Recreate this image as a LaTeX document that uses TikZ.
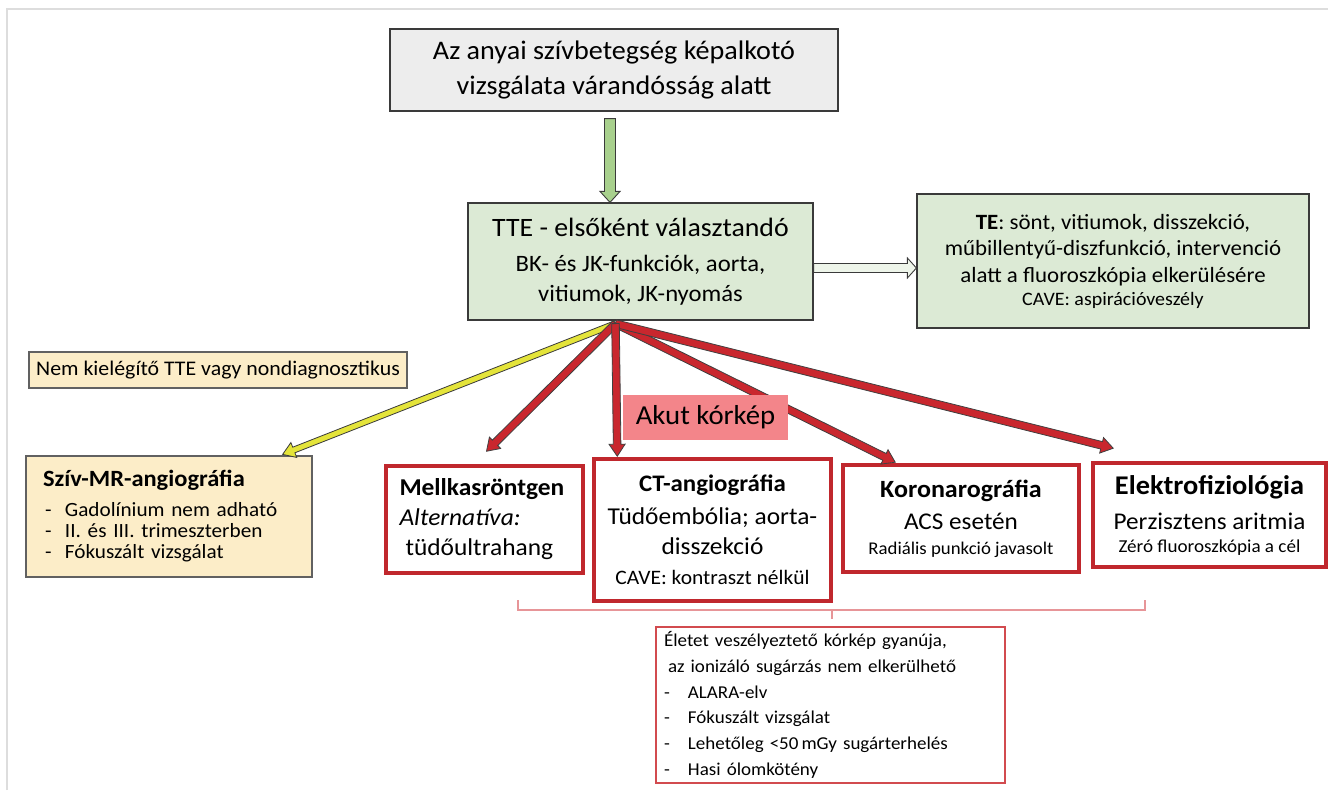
\documentclass[tikz,border=0pt]{standalone}
\usepackage{fontspec}
\setmainfont{Carlito}[FakeStretch=1.05]
\usetikzlibrary{calc}
\definecolor{boxline}{HTML}{3A3A3A}
\definecolor{titlefill}{HTML}{EDEDED}
\definecolor{greenfill}{HTML}{DCEAD5}
\definecolor{greenarrow}{HTML}{A8D08D}
\definecolor{greenlight}{HTML}{EEF5EA}
\definecolor{yellowfill}{HTML}{FCEDC8}
\definecolor{yellowarrow}{HTML}{E4E43A}
\definecolor{redline}{HTML}{C0272D}
\definecolor{redarrow}{HTML}{C9272E}
\definecolor{akutfill}{HTML}{F3858A}
\definecolor{thinred}{HTML}{D24B4F}
\definecolor{bracketred}{HTML}{E79598}
\definecolor{framegray}{HTML}{DDDDDD}
\newcommand\fs[2]{\fontsize{#1}{#2}\selectfont}
\newcommand\fatarrow[6]{%
  \path[#1] let \p1=(#2), \p2=(#3),
     \n1={atan2(\y2-\y1,\x2-\x1)}, \n2={veclen(\x2-\x1,\y2-\y1)} in
     [shift={(\p1)}, rotate=\n1]
     (0pt,-#4pt) -- ({\n2*1pt-#6pt},-#4pt) -- ({\n2*1pt-#6pt},-#5pt)
     -- ({\n2*1pt},0pt) -- ({\n2*1pt-#6pt},#5pt) -- ({\n2*1pt-#6pt},#4pt)
     -- (0pt,#4pt) -- cycle;}
\begin{document}
\begin{tikzpicture}[x=1pt,y=-1pt,
  basebox/.style={draw=boxline, line width=1.2pt, inner sep=0pt, align=center},
  titlebox/.style={basebox, fill=titlefill},
  greenbox/.style={basebox, fill=greenfill},
  yellowbox/.style={basebox, draw=boxline!80, fill=yellowfill},
  redbox/.style={draw=redline, line width=3.5pt, inner sep=0pt, align=center, fill=white},
  akutbox/.style={fill=akutfill, inner sep=0pt, align=center},
  thinbox/.style={draw=thinred, line width=1.2pt, inner sep=0pt, fill=white},
  garrow/.style={draw=boxline, line width=0.9pt, fill=greenarrow},
  rarrowlight/.style={draw=boxline, line width=0.9pt, fill=greenlight},
  yarrow/.style={draw=boxline, line width=0.8pt, fill=yellowarrow},
  rarrow/.style={draw=black!75, line width=0.8pt, fill=redarrow},
  brk/.style={draw=bracketred, line width=1.1pt},
  frame/.style={draw=framegray, line width=1.5pt}
]
\useasboundingbox (0,0) rectangle (1328,790);
\fill[white] (0,0) rectangle (1328,790);
\draw[frame] (7,790) -- (7,9) -- (1328,9);

% boxes
\node[titlebox, minimum width=448, minimum height=82, font=\fs{26.8}{35}] (title) at (614,70)
  {Az anyai szívbetegség képalkotó\\vizsgálata várandósság alatt};

\node[greenbox, minimum width=345, minimum height=117, font=\fs{23.5}{30}] (tte) at (640.5,261.5)
  {{\fs{26.5}{30}TTE - elsőként választandó}\\[5pt]BK- és JK-funkciók, aorta,\\vitiumok, JK-nyomás};

\node[greenbox, minimum width=392, minimum height=134, font=\fs{21.8}{26.5}] (te) at (1113,261)
  {\textbf{TE}: sönt, vitiumok, disszekció,\\műbillentyű-diszfunkció, intervenció\\alatt a fluoroszkópia elkerülésére\\[-3.5pt]{\fs{19}{22}CAVE: aspirációveszély}};

\node[yellowbox, minimum width=378, minimum height=36, font=\fs{20.8}{22}] (nem) at (218,370)
  {Nem kielégítő TTE vagy nondiagnosztikus};

\node[yellowbox, minimum height=121, text width=252, inner xsep=17pt, align=left, font=\fs{20.2}{21}] (mr) at (169,516.5)
  {{\fs{23.3}{26}\bfseries Szív-MR-angiográfia}\\[9pt]
   \hspace*{2pt}-\ \ Gadolínium nem adható\\
   \hspace*{2pt}-\ \ II. és III. trimeszterben\\
   \hspace*{2pt}-\ \ Fókuszált vizsgálat};

\node[redbox, minimum height=107, text width=170, inner xsep=13.5pt, align=left, font=\fs{24.2}{30}] (mell) at (484.5,519.5)
  {\textbf{Mellkasröntgen}\\\textit{Alternatíva:}\\\hspace*{6pt}tüdőultrahang};

\node[redbox, minimum width=237, minimum height=142, font=\fs{24.2}{30}] (ct) at (712.5,530)
  {{\bfseries\fs{23.7}{30}CT-angiográfia}\\[3pt]Tüdőembólia; aorta-\\disszekció\\{\fs{20.5}{30}CAVE: kontraszt nélkül}};

\node[redbox, minimum width=236, minimum height=107, font=\fs{24}{32}] (koro) at (961,518.5)
  {{\bfseries\fs{24.8}{32}Koronarográfia}\\ACS esetén\\[-7pt]{\fs{17.9}{20}Radiális punkció javasolt}};

\node[redbox, minimum width=233, minimum height=104, font=\fs{24}{35}] (elek) at (1209.5,515)
  {{\fs{27}{35}\bfseries Elektrofiziológia}\\Perzisztens aritmia\\[-12pt]{\fs{18.2}{20}Zéró fluoroszkópia a cél}};

\node[thinbox, minimum height=156, text width=333, inner xsep=8pt, align=left, font=\fs{18.1}{25.7}] (bot) at (830.5,705)
  {Életet veszélyeztető kórkép gyanúja,\\
   \hspace*{4pt}az ionizáló sugárzás nem elkerülhető\\
   \makebox[24pt][l]{-}ALARA-elv\\
   \makebox[24pt][l]{-}Fókuszált vizsgálat\\
   \makebox[24pt][l]{-}Lehetőleg <50\,mGy sugárterhelés\\
   \makebox[24pt][l]{-}Hasi ólomkötény};

% connectors
\coordinate (gA) at ([xshift=-4pt,yshift=-7pt]title.south);
\coordinate (gB) at (gA |- tte.north);
\fatarrow{garrow}{gA}{gB}{5.5}{10}{11}

\coordinate (rA) at ([yshift=-6.5pt]tte.east);
\coordinate (rB) at (rA -| te.west);
\fatarrow{rarrowlight}{rA}{rB}{4.5}{10}{9}

\coordinate (hub) at ([xshift=-25pt,yshift=-3pt]tte.south);
\coordinate (yEnd) at ([xshift=-30pt,yshift=1pt]mr.north east);
\coordinate (mEnd) at ([xshift=2pt,yshift=13pt]mell.north);
\coordinate (cEnd) at ([xshift=25pt,yshift=1pt]ct.north west);
\coordinate (kEnd) at ([xshift=54pt,yshift=1pt]koro.north west);
\coordinate (eEnd) at ([xshift=22pt,yshift=13pt]elek.north west);

\fatarrow{yarrow}{hub}{yEnd}{3}{8}{12}
\fatarrow{rarrow}{hub}{mEnd}{3.8}{8}{12}
\fatarrow{rarrow}{hub}{kEnd}{3.8}{8}{12}
\fatarrow{rarrow}{hub}{eEnd}{3.8}{8}{12}
\fatarrow{rarrow}{hub}{cEnd}{3.8}{8}{12}

\node[akutbox, minimum width=165, minimum height=45, font=\fs{27.4}{30}] (akut) at (705.5,417.5) {Akut kórkép};

% bracket
\draw[brk] (518,600) |- (1145,610) -- (1145,600);
\draw[brk] ([xshift=1.5pt,yshift=17pt]bot.north) -- ([xshift=1.5pt,yshift=7pt]bot.north);
\end{tikzpicture}
\end{document}
